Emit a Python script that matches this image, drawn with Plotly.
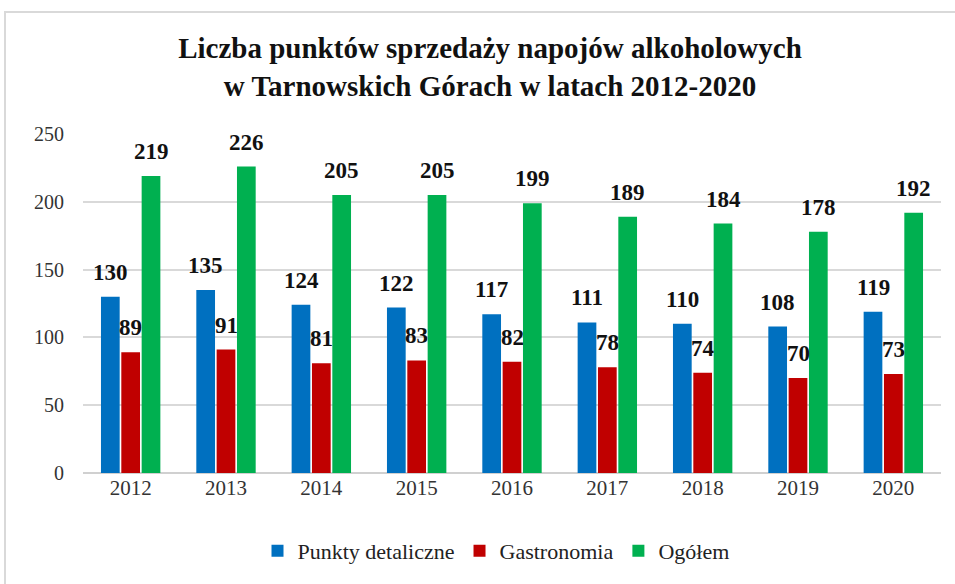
import plotly.graph_objects as go

years = ["2012", "2013", "2014", "2015", "2016", "2017", "2018", "2019", "2020"]
detaliczne = [130, 135, 124, 122, 117, 111, 110, 108, 119]
gastronomia = [89, 91, 81, 83, 82, 78, 74, 70, 73]
ogolem = [219, 226, 205, 205, 199, 189, 184, 178, 192]
y_ticks = [0, 50, 100, 150, 200, 250]

series = [
    ("Punkty detaliczne", detaliczne, "#0070C0"),
    ("Gastronomia", gastronomia, "#C00000"),
    ("Ogółem", ogolem, "#00B050"),
]

W, H = 955, 584
L, R, T, B = 83, 14, 134, 111
pw, ph = W - L - R, H - T - B

bargap = 0.36
slot = (1 - bargap) / 3
xs = list(range(len(years)))

fig = go.Figure()
annotations = []
for k, (name, vals, col) in enumerate(series):
    fig.add_trace(go.Bar(
        x=xs, y=vals, name=name, marker=dict(color=col, line=dict(width=0)),
    ))
    off = (k - 1) * slot
    for i, v in enumerate(vals):
        annotations.append(dict(
            x=i + off, y=v, xref="x", yref="y", text=str(v), showarrow=False,
            yanchor="bottom", yshift=10,
            font=dict(family="Liberation Serif", size=23, color="#111111", weight="bold"),
        ))

def px_x(p):
    return (p - L) / pw

def px_y(p):
    return (H - B - p) / ph

fig.update_layout(
    width=W, height=H,
    margin=dict(l=L, r=R, t=T, b=B, autoexpand=False),
    paper_bgcolor="white", plot_bgcolor="white",
    barmode="group", bargap=bargap, bargroupgap=0.08,
    title=dict(
        text="<b>Liczba punktów sprzedaży napojów alkoholowych<br>w Tarnowskich Górach w latach 2012-2020</b>",
        x=490 / W, xanchor="center", xref="container",
        y=1 - 58 / H, yanchor="top", yref="container",
        font=dict(family="Liberation Serif", size=29, color="#111111"),
    ),
    xaxis=dict(
        tickmode="array", tickvals=xs, ticktext=years, range=[-0.5, len(years) - 0.5],
        showgrid=False, zeroline=False, showline=False, ticks="",
        tickfont=dict(family="Liberation Serif", size=21, color="#333333"),
    ),
    yaxis=dict(
        range=[0, 250], tickvals=y_ticks, showgrid=True, gridcolor="#d9d9d9", gridwidth=1.5,
        zeroline=True, zerolinecolor="#d0d0d0", zerolinewidth=1.5, showline=False, ticks="",
        ticklabelstandoff=18,
        tickfont=dict(family="Liberation Serif", size=20, color="#333333"),
    ),
    legend=dict(
        orientation="h", x=496 / W, xanchor="center", xref="container",
        y=1 - 530 / H, yanchor="top", yref="container",
        font=dict(family="Liberation Serif", size=22, color="#222222"),
        itemwidth=30, traceorder="normal",
    ),
    annotations=annotations,
    shapes=[dict(
        type="rect", xref="paper", yref="paper",
        x0=px_x(5), x1=px_x(962), y0=px_y(595), y1=px_y(12),
        line=dict(color="#d9d9d9", width=2), fillcolor="rgba(0,0,0,0)", layer="below",
    )],
    showlegend=True,
)

fig.write_html("out.html", config={"displayModeBar": False},
               post_script="document.body.style.margin='0';")
